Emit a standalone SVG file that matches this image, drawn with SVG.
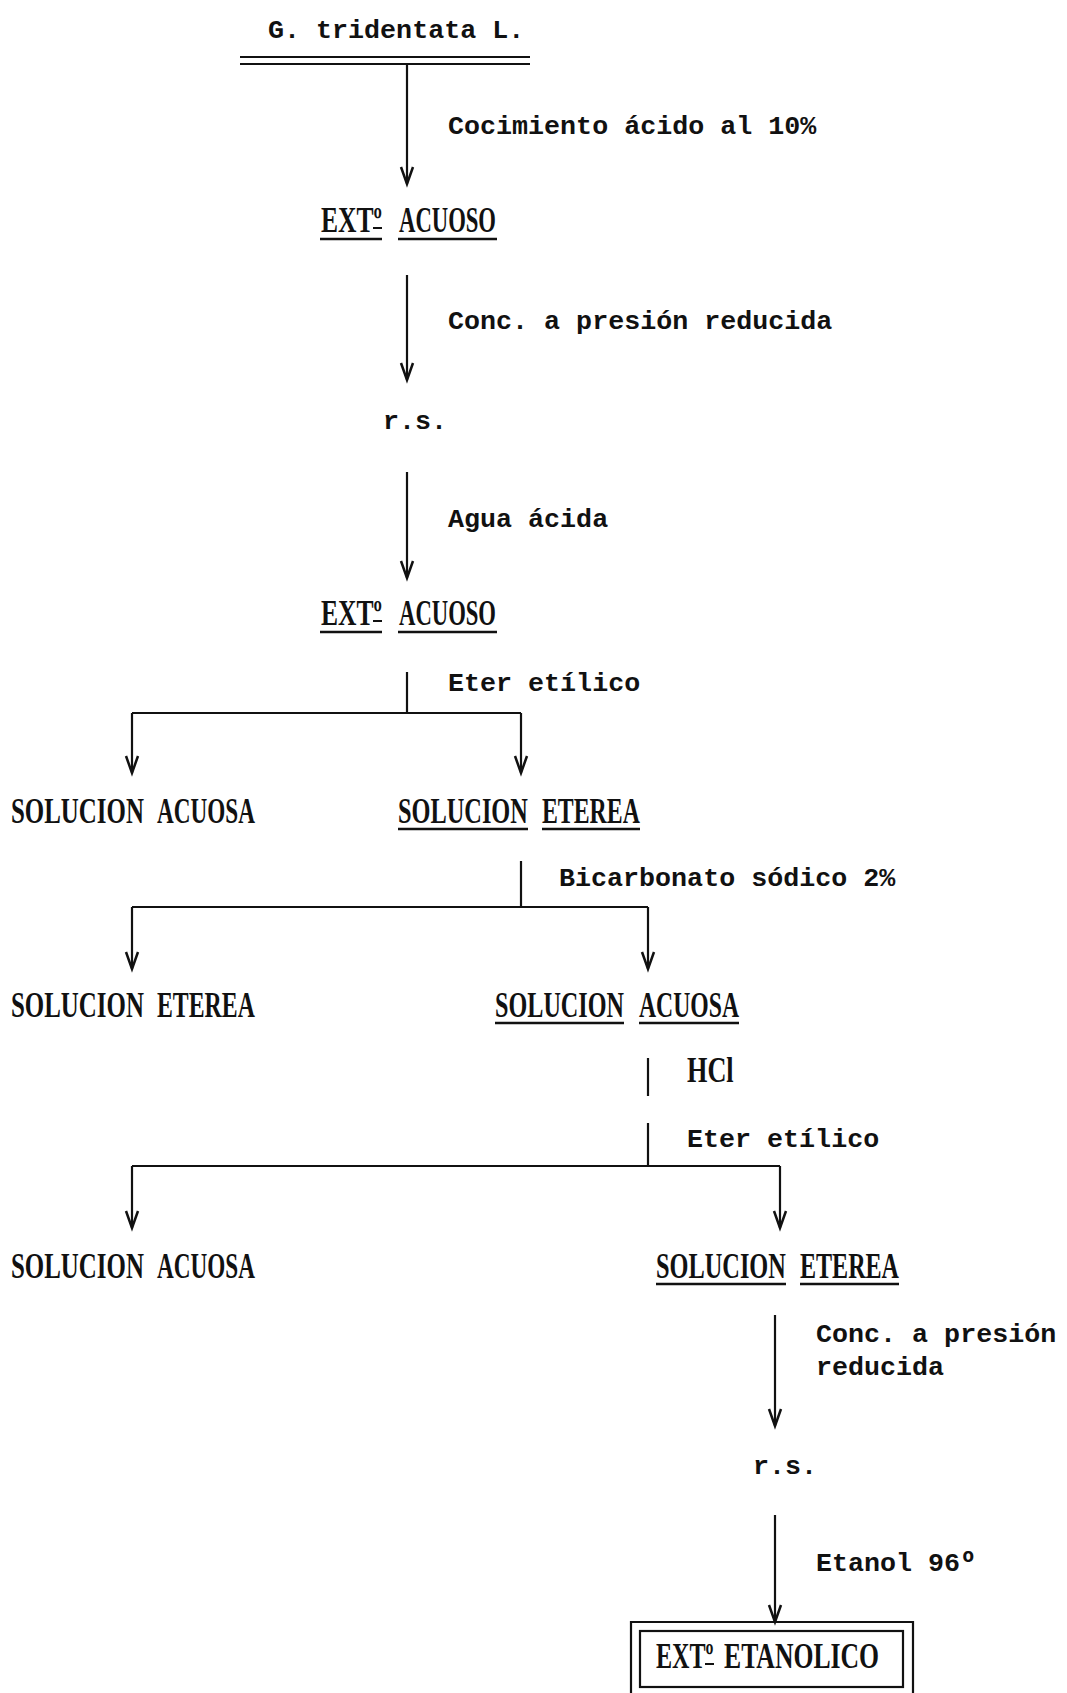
<svg xmlns="http://www.w3.org/2000/svg" width="1067" height="1693" viewBox="0 0 1067 1693">
<defs>
<marker id="ah" markerUnits="userSpaceOnUse" markerWidth="24" markerHeight="20" viewBox="-20 -10 24 20" refX="0" refY="0" orient="auto">
<path d="M-17,-6 L0,0 L-17,6" fill="none" stroke="#111" stroke-width="2.5"/>
</marker>
</defs>
<style>
.t{font-family:"Liberation Mono",monospace;font-size:26.7px;font-weight:bold;fill:#111}
.c{font-family:"Liberation Serif",serif;font-size:35px;font-weight:bold;fill:#111}
.ln{stroke:#111;stroke-width:2.2;fill:none}
.ar{stroke:#111;stroke-width:2.2;fill:none;marker-end:url(#ah)}
.ul{stroke:#111;stroke-width:2.6}
.ob{stroke:#111;stroke-width:2}
</style>
<rect width="1067" height="1693" fill="#fff"/>
<g id="connectors">
<line class="ar" x1="407" y1="64" x2="407" y2="184"/>
<line class="ar" x1="407" y1="275" x2="407" y2="380"/>
<line class="ar" x1="407" y1="472" x2="407" y2="578"/>
<polyline class="ln" points="407,672 407,713"/>
<polyline class="ln" points="132,713 521,713"/>
<line class="ar" x1="132" y1="713" x2="132" y2="773"/>
<line class="ar" x1="521" y1="713" x2="521" y2="773"/>
<polyline class="ln" points="521,861 521,907"/>
<polyline class="ln" points="132,907 648,907"/>
<line class="ar" x1="132" y1="907" x2="132" y2="969"/>
<line class="ar" x1="648" y1="907" x2="648" y2="969"/>
<polyline class="ln" points="648,1058 648,1096"/>
<polyline class="ln" points="648,1123 648,1166"/>
<polyline class="ln" points="132,1166 780,1166"/>
<line class="ar" x1="132" y1="1166" x2="132" y2="1228"/>
<line class="ar" x1="780" y1="1166" x2="780" y2="1228"/>
<line class="ar" x1="775" y1="1315" x2="775" y2="1426"/>
<line class="ar" x1="775" y1="1515" x2="775" y2="1622"/>
<text class="t" x="448" y="134">Cocimiento ácido al 10%</text>
<text class="t" x="448" y="329">Conc. a presión reducida</text>
<text class="t" x="448" y="527">Agua ácida</text>
<text class="t" x="448" y="691">Eter etílico</text>
<text class="t" x="559" y="886">Bicarbonato sódico 2%</text>
<text class="c" transform="translate(687,1082) scale(0.75,1)">HCl</text>
<text class="t" x="687" y="1147">Eter etílico</text>
<text class="t" x="816" y="1342">Conc. a presión</text>
<text class="t" x="816" y="1375">reducida</text>
<text class="t" x="816" y="1571">Etanol 96º</text>
</g>
<g id="n-title">
<text class="t" x="268" y="38">G. tridentata L.</text>
<line class="ln" x1="240" y1="57" x2="530" y2="57"/>
<line class="ln" x1="240" y1="64" x2="530" y2="64"/>
</g>
<g id="n-ext1">
<text class="c" transform="translate(321,232) scale(0.73,1)">EXTº</text>
<text class="c" transform="translate(399,232) scale(0.648,1)">ACUOSO</text>
<line class="ob" x1="373" y1="228" x2="382" y2="228"/>
<line class="ul" x1="320" y1="239" x2="382" y2="239"/>
<line class="ul" x1="398" y1="239" x2="497" y2="239"/>
</g>
<g id="n-rs1">
<text class="t" x="383" y="429">r.s.</text>
</g>
<g id="n-ext2">
<text class="c" transform="translate(321,625) scale(0.73,1)">EXTº</text>
<text class="c" transform="translate(399,625) scale(0.648,1)">ACUOSO</text>
<line class="ob" x1="373" y1="621" x2="382" y2="621"/>
<line class="ul" x1="320" y1="632" x2="382" y2="632"/>
<line class="ul" x1="398" y1="632" x2="497" y2="632"/>
</g>
<g id="n-acuosa1">
<text class="c" transform="translate(11,823) scale(0.712,1)">SOLUCION</text>
<text class="c" transform="translate(157,823) scale(0.663,1)">ACUOSA</text>
</g>
<g id="n-eterea1">
<text class="c" transform="translate(398,823) scale(0.696,1)">SOLUCION</text>
<text class="c" transform="translate(542,823) scale(0.68,1)">ETEREA</text>
<line class="ul" x1="398" y1="829" x2="528" y2="829"/>
<line class="ul" x1="542" y1="829" x2="640" y2="829"/>
</g>
<g id="n-eterea2">
<text class="c" transform="translate(11,1017) scale(0.712,1)">SOLUCION</text>
<text class="c" transform="translate(157,1017) scale(0.68,1)">ETEREA</text>
</g>
<g id="n-acuosa2">
<text class="c" transform="translate(495,1017) scale(0.691,1)">SOLUCION</text>
<text class="c" transform="translate(639,1017) scale(0.677,1)">ACUOSA</text>
<line class="ul" x1="495" y1="1023" x2="624" y2="1023"/>
<line class="ul" x1="639" y1="1023" x2="739" y2="1023"/>
</g>
<g id="n-acuosa3">
<text class="c" transform="translate(11,1278) scale(0.712,1)">SOLUCION</text>
<text class="c" transform="translate(157,1278) scale(0.663,1)">ACUOSA</text>
</g>
<g id="n-eterea3">
<text class="c" transform="translate(656,1278) scale(0.696,1)">SOLUCION</text>
<text class="c" transform="translate(800,1278) scale(0.688,1)">ETEREA</text>
<line class="ul" x1="656" y1="1284" x2="786" y2="1284"/>
<line class="ul" x1="800" y1="1284" x2="899" y2="1284"/>
</g>
<g id="n-rs2">
<text class="t" x="753" y="1474">r.s.</text>
</g>
<g id="n-etanolico">
<path class="ln" d="M631,1700 V1622 H913 V1700"/>
<rect class="ln" x="640" y="1631" width="263" height="56"/>
<text class="c" transform="translate(656,1668) scale(0.69,1)">EXTº</text>
<text class="c" transform="translate(724,1668) scale(0.734,1)">ETANOLICO</text>
<line class="ob" x1="705" y1="1664" x2="714" y2="1664"/>
</g>
</svg>
